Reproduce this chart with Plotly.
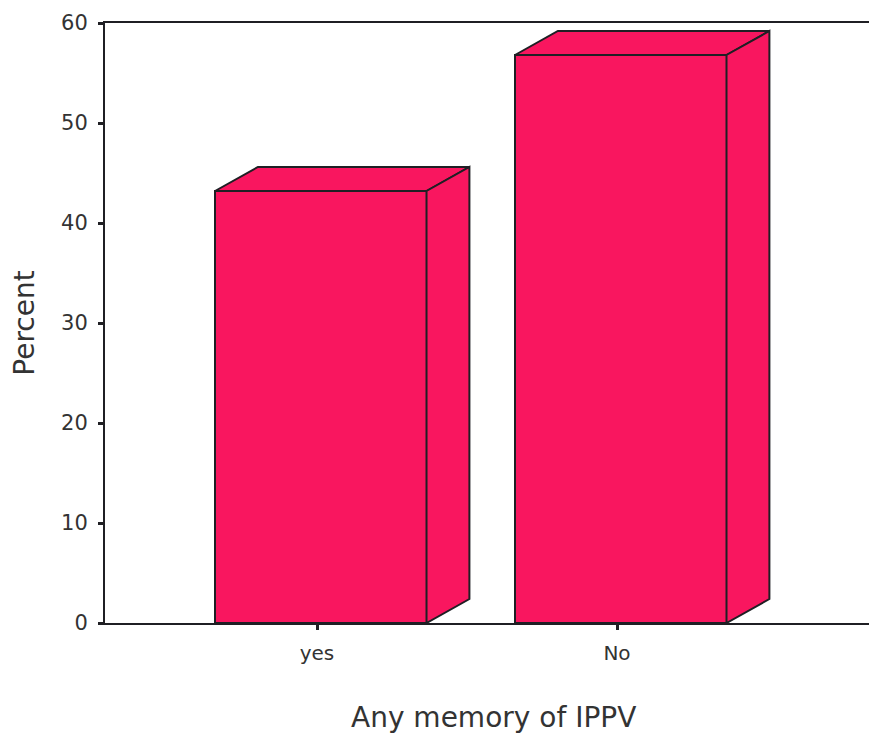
import plotly.graph_objects as go

categories = ["yes", "No"]
percent = [43.2, 56.8]
y_ticks = [0, 10, 20, 30, 40, 50, 60]

FILL = "#F9165F"
EDGE = "#1f1f24"
TEXT = "#333333"
BAR_WIDTH = 0.705
BAR_OFFSET = -0.34
DEPTH_X = 0.143
DEPTH_Y = 2.4

positions = list(range(len(categories)))
top_x, top_y, side_x, side_y = [], [], [], []
for p, v in zip(positions, percent):
    x0 = p + BAR_OFFSET
    x1 = x0 + BAR_WIDTH
    top_x += [x0, x0 + DEPTH_X, x1 + DEPTH_X, x1, x0, None]
    top_y += [v, v + DEPTH_Y, v + DEPTH_Y, v, v, None]
    side_x += [x1, x1 + DEPTH_X, x1 + DEPTH_X, x1, x1, None]
    side_y += [0, DEPTH_Y, v + DEPTH_Y, v, 0, None]

fig = go.Figure()
fig.add_bar(x=positions, y=percent, width=BAR_WIDTH, offset=BAR_OFFSET,
            marker=dict(color=FILL, line=dict(color=EDGE, width=2)),
            hoverinfo="x+y", showlegend=False)
for xs, ys in ((top_x, top_y), (side_x, side_y)):
    fig.add_scatter(x=xs, y=ys, mode="lines", fill="toself", fillcolor=FILL,
                    line=dict(color=EDGE, width=2), hoverinfo="skip", showlegend=False)

fig.update_layout(
    width=869, height=735, autosize=False,
    margin=dict(l=105, r=0, t=23, b=112),
    paper_bgcolor="white", plot_bgcolor="white",
    font=dict(family="DejaVu Sans", color=TEXT),
    bargap=0,
    annotations=[dict(
        text="Any memory of IPPV", xref="paper", yref="paper",
        x=(493 - 105) / 764, y=-(717 - 623) / 600,
        xanchor="center", yanchor="middle", showarrow=False,
        font=dict(size=28, family="DejaVu Sans", color=TEXT),
    )],
)
fig.update_xaxes(
    range=[-0.7067, 1.84], tickmode="array", tickvals=positions, ticktext=categories,
    showgrid=False, zeroline=False, showline=True, mirror=True,
    linecolor=EDGE, linewidth=2, ticks="outside", ticklen=5, tickwidth=3, tickcolor=EDGE,
    tickfont=dict(size=20),
    ticklabelstandoff=6,
)
fig.update_yaxes(
    range=[0, 60], tickmode="array", tickvals=y_ticks,
    showgrid=False, zeroline=False, showline=True,
    linecolor=EDGE, linewidth=2, ticks="outside", ticklen=5, tickwidth=3, tickcolor=EDGE,
    tickfont=dict(size=21),
    ticklabelstandoff=6,
    title=dict(text="Percent", font=dict(size=28), standoff=18),
)
fig.write_html("out.html", config={"displayModeBar": False},
               post_script="document.body.style.margin='0';document.body.style.overflow='hidden';")
